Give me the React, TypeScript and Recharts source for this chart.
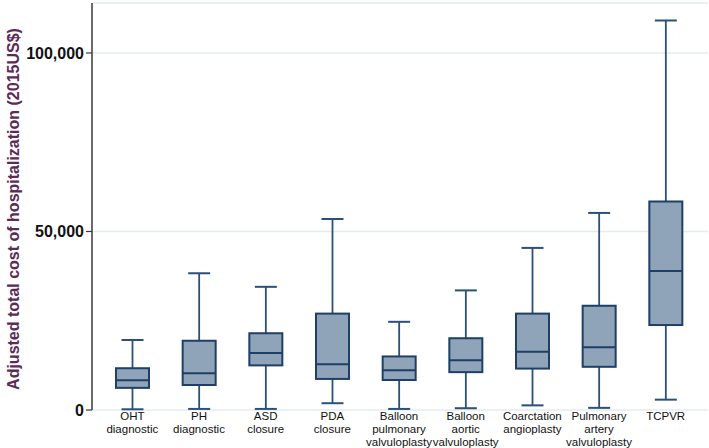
import { ComposedChart, Bar, XAxis, YAxis, CartesianGrid, Label } from 'recharts';

// Box plot summary per procedure (2015 US$)
const procedures = [
  'OHT\ndiagnostic',
  'PH\ndiagnostic',
  'ASD\nclosure',
  'PDA\nclosure',
  'Balloon\npulmonary\nvalvuloplasty',
  'Balloon\naortic\nvalvuloplasty',
  'Coarctation\nangioplasty',
  'Pulmonary\nartery\nvalvuloplasty',
  'TCPVR',
];
const minValues = [200, 300, 300, 1900, 300, 500, 1300, 600, 2900];
const q1Values = [6200, 7000, 12500, 8700, 8400, 10600, 11600, 12100, 23800];
const medianValues = [8300, 10300, 16000, 12800, 11100, 13900, 16300, 17600, 38900];
const q3Values = [11700, 19400, 21500, 27000, 15000, 20100, 27000, 29200, 58400];
const maxValues = [19600, 38300, 34500, 53500, 24700, 33500, 45400, 55200, 109100];
const yTicks = [0, 50000, 100000];

const data = procedures.map((name, i) => ({
  name,
  min: minValues[i],
  q1: q1Values[i],
  median: medianValues[i],
  q3: q3Values[i],
  max: maxValues[i],
}));

const BOX = '#1f3f66';
const WHISKER = '#2b5079';
const FILL = '#8fa3b9';

// draws whiskers, box and median from the bar's [min, max] pixel span
const BoxShape = (props: any) => {
  const { x, y, width, height, payload } = props;
  if (payload == null) return null;
  const top = Math.min(y, y + height);
  const bottom = Math.max(y, y + height);
  const span = payload.max - payload.min;
  const py = (v: number) => bottom - ((v - payload.min) / span) * (bottom - top);
  const cx = x + width / 2;
  const cap = 11;
  return (
    <g>
      <line x1={cx} x2={cx} y1={py(payload.max)} y2={py(payload.min)} stroke={WHISKER} strokeWidth={1.8} />
      <line x1={cx - cap} x2={cx + cap} y1={py(payload.max)} y2={py(payload.max)} stroke={WHISKER} strokeWidth={2} />
      <line x1={cx - cap} x2={cx + cap} y1={py(payload.min)} y2={py(payload.min)} stroke={WHISKER} strokeWidth={2} />
      <rect
        x={x}
        y={py(payload.q3)}
        width={width}
        height={py(payload.q1) - py(payload.q3)}
        fill={FILL}
        stroke={BOX}
        strokeWidth={2}
      />
      <line x1={x} x2={x + width} y1={py(payload.median)} y2={py(payload.median)} stroke={BOX} strokeWidth={2} />
    </g>
  );
};

const CategoryTick = (props: any) => {
  const { x, payload } = props;
  const lines = String(payload.value).split('\n');
  return (
    <text x={x} y={420} textAnchor="middle" fontSize={11.5} fill="#111" fontFamily="Liberation Sans, Arial, sans-serif">
      {lines.map((line, i) => (
        <tspan key={i} x={x} dy={i === 0 ? 0 : 12.8}>
          {line}
        </tspan>
      ))}
    </text>
  );
};

const YLabel = () => (
  <text
    x={19}
    y={209}
    transform="rotate(-90, 19, 209)"
    textAnchor="middle"
    fontSize={16}
    fontWeight="bold"
    fill="#5b2a57"
    fontFamily="Liberation Sans, Arial, sans-serif"
  >
    Adjusted total cost of hospitalization (2015US$)
  </text>
);

export default function App() {
  return (
    <div style={{ position: 'absolute', left: 0, top: 0, width: 709, height: 448, background: '#fff' }}>
      <ComposedChart
        width={709}
        height={448}
        data={data}
        margin={{ top: 3, right: 1, left: 0, bottom: 0 }}
        barCategoryGap={0}
      >
        <CartesianGrid vertical={false} stroke="#e4ecef" strokeWidth={1.5} />
        <XAxis
          dataKey="name"
          interval={0}
          axisLine={false}
          tickLine={false}
          tickSize={0}
          tick={<CategoryTick />}
          height={38}
          padding={{ left: 7, right: 9 }}
        />
        <YAxis
          domain={[0, 114000]}
          ticks={yTicks}
          width={92}
          axisLine={{ stroke: '#3a3a3a', strokeWidth: 1.5 }}
          tickLine={{ stroke: '#3a3a3a', strokeWidth: 1.2 }}
          tickSize={6}
          tick={{ fontSize: 16, fontWeight: 'bold', fill: '#111', fontFamily: 'Liberation Sans, Arial, sans-serif' }}
          tickFormatter={(v: number) => v.toLocaleString('en-US')}
        >
          <Label content={<YLabel />} />
        </YAxis>
        <Bar
          dataKey={(d: any) => [d.min, d.max]}
          barSize={33}
          shape={<BoxShape />}
          isAnimationActive={false}
        />
      </ComposedChart>
    </div>
  );
}
